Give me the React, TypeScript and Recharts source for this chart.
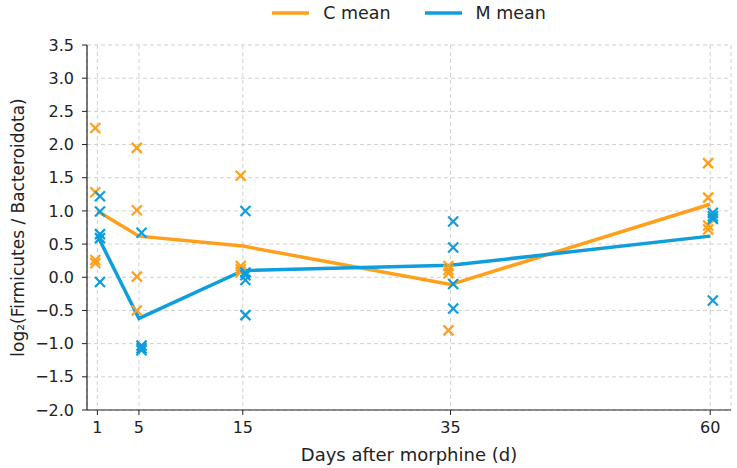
import React from "react";
import {
  ComposedChart,
  Line,
  Scatter,
  XAxis,
  YAxis,
  CartesianGrid,
  Legend,
} from "recharts";

const days = [1, 5, 15, 35, 60];
const cMean = [1.0, 0.62, 0.47, -0.11, 1.1];
const mMean = [0.63, -0.62, 0.1, 0.18, 0.62];

const cPointDays = [1, 1, 1, 1, 5, 5, 5, 5, 15, 15, 15, 15, 35, 35, 35, 35, 60, 60, 60, 60];
const cPointValues = [2.25, 1.28, 0.26, 0.21, 1.95, 1.01, 0.01, -0.5, 1.53, 0.17, 0.12, 0.08, 0.17, 0.11, 0.06, -0.8, 1.72, 1.2, 0.78, 0.72];

const mPointDays = [1, 1, 1, 1, 1, 5, 5, 5, 5, 15, 15, 15, 15, 15, 35, 35, 35, 35, 60, 60, 60, 60];
const mPointValues = [1.22, 0.99, 0.65, 0.59, -0.07, 0.67, -1.03, -1.07, -1.1, 1.0, 0.07, 0.03, -0.04, -0.57, 0.84, 0.45, -0.1, -0.47, 0.97, 0.92, 0.88, -0.35];

const yTicks = [-2, -1.5, -1, -0.5, 0, 0.5, 1, 1.5, 2, 2.5, 3, 3.5];
const xTicks = days;

const C_COLOR = "#FF9F1A";
const M_COLOR = "#109DDB";

const legendItems = [
  { label: "C mean", color: C_COLOR },
  { label: "M mean", color: M_COLOR },
];

const cMeanData = days.map((d, i) => ({ x: d, y: cMean[i] }));
const mMeanData = days.map((d, i) => ({ x: d, y: mMean[i] }));
const cPoints = cPointDays.map((d, i) => ({ x: d - 0.2, y: cPointValues[i] }));
const mPoints = mPointDays.map((d, i) => ({ x: d + 0.25, y: mPointValues[i] }));

const FONT = "DejaVu Sans, sans-serif";

const makeCross = (color: string) => (props: any) => {
  const { cx, cy } = props;
  const r = 5;
  return (
    <g>
      <line x1={cx - r} y1={cy - r} x2={cx + r} y2={cy + r} stroke={color} strokeWidth={2.2} />
      <line x1={cx - r} y1={cy + r} x2={cx + r} y2={cy - r} stroke={color} strokeWidth={2.2} />
    </g>
  );
};

const fmt = (v: number) => {
  const s = Math.abs(v).toFixed(1);
  return v < 0 ? "\u2212" + s : s;
};

const LegendContent = () => (
  <div
    style={{
      height: 30,
      display: "flex",
      justifyContent: "center",
      alignItems: "flex-start",
      fontFamily: FONT,
      fontSize: 17.5,
      color: "#222",
    }}
  >
    {legendItems.map((it, i) => (
      <div key={i} style={{ display: "flex", alignItems: "center", marginLeft: i ? 34 : 0, height: 26 }}>
        <svg width={37} height={6} style={{ marginRight: 14 }}>
          <line x1={0} y1={3} x2={37} y2={3} stroke={it.color} strokeWidth={3.5} />
        </svg>
        <span>{it.label}</span>
      </div>
    ))}
  </div>
);

export default function App() {
  const tickStyle = { fontFamily: FONT, fontSize: 16, fill: "#222" };
  return (
    <div style={{ width: 737, height: 468, background: "#fff" }}>
      <style>{`body{margin:0}`}</style>
      <ComposedChart
        width={737}
        height={468}
        margin={{ top: 15, right: 6, bottom: 0, left: 0 }}
      >
        <CartesianGrid stroke="#cccccc" strokeDasharray="4 3" strokeWidth={0.9} />
        <XAxis
          dataKey="x"
          type="number"
          domain={[0, 62]}
          ticks={xTicks}
          allowDataOverflow
          height={58}
          tick={tickStyle}
          tickLine={{ stroke: "#222" }}
          axisLine={{ stroke: "#222", strokeWidth: 1.2 }}
          tickSize={5}
          tickMargin={7}
          label={{
            value: "Days after morphine (d)",
            position: "insideBottom",
            offset: 7,
            style: { fontFamily: FONT, fontSize: 18, fill: "#222" },
          }}
        />
        <YAxis
          type="number"
          domain={[-2, 3.5]}
          ticks={yTicks}
          allowDataOverflow
          width={87}
          tick={tickStyle}
          tickFormatter={fmt}
          tickLine={{ stroke: "#222" }}
          axisLine={{ stroke: "#222", strokeWidth: 1.2 }}
          tickSize={5}
          tickMargin={8}
          label={{
            value: "log\u2082(Firmicutes / Bacteroidota)",
            angle: -90,
            position: "insideLeft",
            offset: 18,
            style: { fontFamily: FONT, fontSize: 17, fill: "#222", textAnchor: "middle" },
          }}
        />
        <Legend
          verticalAlign="top"
          align="center"
          wrapperStyle={{ top: 0, left: 87, width: 644 }}
          content={<LegendContent />}
        />
        <Line data={cMeanData} dataKey="y" stroke={C_COLOR} strokeWidth={3.5} dot={false} isAnimationActive={false} legendType="line" name="C mean" />
        <Line data={mMeanData} dataKey="y" stroke={M_COLOR} strokeWidth={3.5} dot={false} isAnimationActive={false} legendType="line" name="M mean" />
        <Scatter data={cPoints} dataKey="y" shape={makeCross(C_COLOR)} isAnimationActive={false} legendType="none" />
        <Scatter data={mPoints} dataKey="y" shape={makeCross(M_COLOR)} isAnimationActive={false} legendType="none" />
      </ComposedChart>
    </div>
  );
}
